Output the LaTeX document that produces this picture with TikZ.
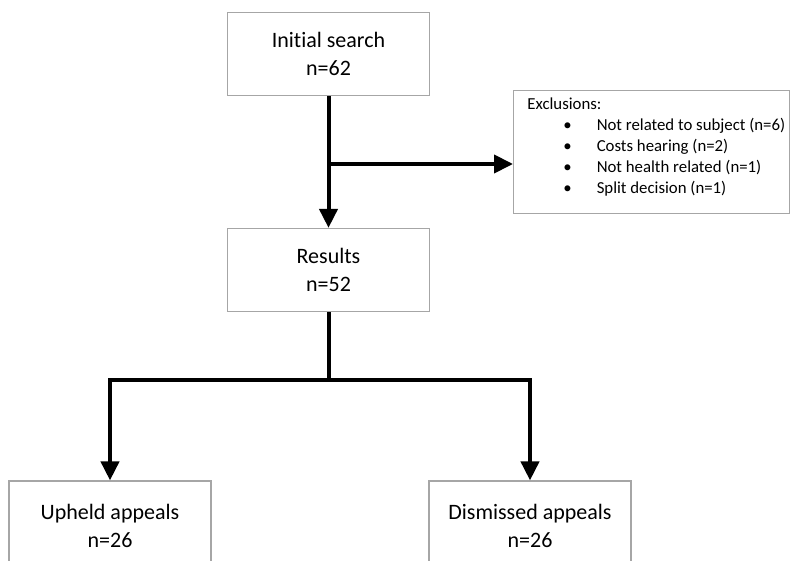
\documentclass[tikz,border=0pt]{standalone}
\usepackage{fontspec}
\setmainfont{Carlito}[Ligatures=NoCommon]
\usetikzlibrary{arrows.meta}
\definecolor{Frame}{HTML}{A6A6A6}

\begin{document}
\begin{tikzpicture}[x=0.5pt,y=-0.5pt,
  box/.style={draw=Frame,line width=0.6pt,minimum width=101pt,minimum height=41.5pt,
    align=center,font=\fontsize{11}{14}\selectfont},
  flow/.style={line width=2pt,-{Triangle[length=9.5pt,width=9pt]}}]
\useasboundingbox (0,0) rectangle (792,561);
\clip (0,0) rectangle (792,561);
\node[box] (init) at (328.5,54) {Initial search\\n=62};
\node[box] (res) at (328.5,270) {Results\\n=52};
\node[box,minimum height=45pt] (up) at (110,526) {Upheld appeals\\n=26};
\node[box,minimum height=45pt] (dis) at (530,526) {Dismissed appeals\\n=26};
\node[draw=Frame,line width=0.6pt,anchor=north west,minimum width=138pt,minimum height=61.5pt,
  inner sep=0pt] (excl) at (513,90) {};
\node[anchor=north west,inner sep=0pt,align=left,font=\fontsize{8.4}{10.5}\selectfont]
  (exclt) at ([xshift=7pt,yshift=-3.5pt]excl.north west)
  {Exclusions:\\
   \hspace*{18pt}\textbullet\hspace*{12.5pt}Not related to subject (n=6)\\
   \hspace*{18pt}\textbullet\hspace*{12.5pt}Costs hearing (n=2)\\
   \hspace*{18pt}\textbullet\hspace*{12.5pt}Not health related (n=1)\\
   \hspace*{18pt}\textbullet\hspace*{12.5pt}Split decision (n=1)};
\coordinate (br) at (328.5,164);
\coordinate (j) at (328.5,380);
\draw[flow] (init) -- (res);
\draw[flow] (br) -- (excl.west |- br);
\draw[line width=2pt] (res) -- (j);
\draw[flow] (j) -| (up);
\draw[flow] (j) -| (dis);
\end{tikzpicture}
\end{document}
